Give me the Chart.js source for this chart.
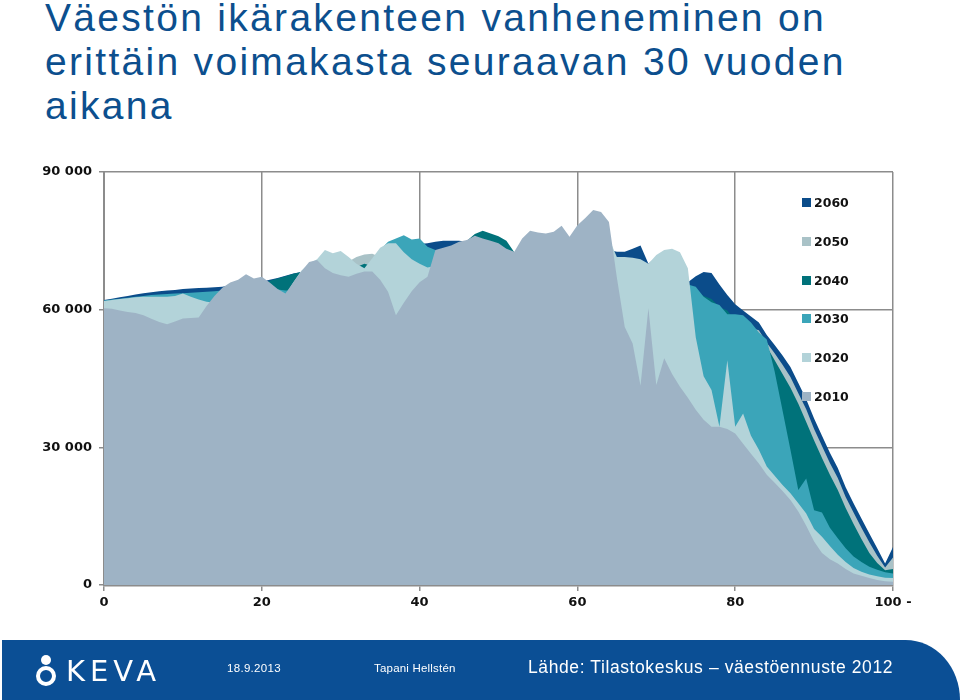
<!DOCTYPE html>
<html lang="fi">
<head>
<meta charset="utf-8">
<script src="https://cdn.jsdelivr.net/npm/chart.js@4.4.0/dist/chart.umd.min.js"></script>
<style>
html,body{margin:0;padding:0;background:#fff;}
#page{position:relative;width:960px;height:700px;overflow:hidden;background:#fff;}
#title{position:absolute;left:45px;top:-4px;font-family:"Liberation Sans",Arial,sans-serif;font-size:39px;line-height:44px;letter-spacing:2.3px;color:#0c4f8e;white-space:nowrap;}
#chartwrap{position:absolute;left:0;top:150px;width:960px;height:470px;}
#legend{position:absolute;left:0;top:0;width:960px;height:700px;pointer-events:none;}
.li{position:absolute;left:802px;height:16px;line-height:16px;font-family:"DejaVu Sans",Verdana,sans-serif;font-weight:bold;font-size:12.5px;color:#111;white-space:nowrap;}
.sw{display:inline-block;width:9px;height:9px;margin-right:3px;vertical-align:0px;}
#footer{position:absolute;left:2px;top:640px;width:958px;height:60px;background:#0b4f95;border-top-right-radius:58px 64px;}
.ft{position:absolute;color:#fff;font-family:"Liberation Sans",Arial,sans-serif;white-space:nowrap;}
#logo{position:absolute;left:34px;top:653px;width:140px;height:36px;}
#head{position:absolute;left:7px;top:2px;width:10px;height:10px;border-radius:50%;background:#fff;}
#body{position:absolute;left:2px;top:13px;width:12px;height:12px;border-radius:50%;border:4px solid #fff;background:#0b4f95;}
#keva{position:absolute;left:32px;top:3px;font-family:"DejaVu Sans",sans-serif;font-size:29px;line-height:30px;letter-spacing:5px;color:#fff;}
</style>
</head>
<body>
<div id="page">
  <div id="title">Väestön ikärakenteen vanheneminen on<br>erittäin voimakasta seuraavan 30 vuoden<br>aikana</div>
  <div id="chartwrap"><canvas id="c" width="960" height="470"></canvas></div>
  <div id="legend"></div>
  <div id="footer"></div>
  <div id="logo"><div id="head"></div><div id="body"></div><div id="keva">KEVA</div></div>
  <div class="ft" style="left:227px;top:662px;font-size:11.5px;letter-spacing:0.3px;">18.9.2013</div>
  <div class="ft" style="left:374px;top:662px;font-size:11.5px;letter-spacing:0.2px;">Tapani Hellstén</div>
  <div class="ft" style="left:528px;top:657px;font-size:17.5px;letter-spacing:0.6px;">Lähde: Tilastokeskus – väestöennuste 2012</div>
</div>
<script>
// Ages 0..100 (100 = "100 -")
const ages = [];
for (let a = 0; a <= 100; a++) ages.push(a);

const xTickLabels = ['0', '20', '40', '60', '80', '100 -'];
const yTickLabels = ['0', '30 000', '60 000', '90 000'];

// Population by age, thousands of persons
const pop2010 = [
 60.3,60.2,59.8,59.5,59.3,58.8,58.0,57.3,56.8,57.4,
 58.1,58.2,58.3,60.8,63.0,64.8,65.9,66.5,67.7,66.8,
 67.2,65.9,64.5,63.5,66.0,68.3,70.4,70.8,69.0,68.0,
 67.5,67.2,67.8,68.3,68.3,66.5,63.9,58.8,61.5,64.0,
 66.0,67.2,73.0,73.5,74.0,74.8,75.2,76.1,75.5,75.0,
 74.5,73.3,72.6,75.5,77.2,76.8,76.6,77.0,78.3,75.9,
 78.4,80.0,81.7,81.3,79.1,67.0,56.2,52.6,43.4,60.3,
 43.6,49.4,46.0,43.2,40.8,38.2,36.0,34.5,34.5,34.0,
 33.0,30.8,28.6,26.5,24.0,22.3,20.5,18.5,16.0,12.9,
 9.5,7.0,5.6,4.7,3.5,2.5,2.0,1.5,1.1,0.8,
 0.7];
const pop2020 = [
 61.9,62.1,62.3,62.5,62.7,62.8,62.8,62.8,62.8,63.0,
 63.5,62.8,62.2,61.7,61.5,61.0,60.3,59.6,59.2,59.8,
 60.6,60.8,60.8,63.2,66.0,68.5,70.0,71.0,73.0,72.3,
 72.8,71.5,70.0,69.0,71.2,73.5,74.5,74.5,72.5,71.0,
 70.0,69.2,69.5,69.0,69.0,67.2,64.5,59.5,62.0,64.5,
 66.5,67.5,72.0,73.3,73.8,74.5,74.8,75.5,74.8,74.2,
 73.5,72.5,71.5,73.5,75.5,71.5,71.5,71.3,71.0,70.0,
 71.9,73.0,73.3,72.5,69.0,54.0,45.5,42.5,34.5,49.0,
 34.5,37.4,32.5,29.5,25.8,23.8,21.8,20.0,17.8,15.6,
 12.2,10.5,8.5,6.6,5.0,3.7,2.9,2.3,1.9,1.6,
 1.5];
const pop2030 = [
 62.0,62.2,62.4,62.6,62.8,63.0,63.2,63.3,63.4,63.5,
 63.6,63.7,63.8,63.9,64.0,64.2,64.3,64.4,64.5,64.6,
 64.8,64.7,64.4,64.2,64.2,64.0,63.5,63.1,62.8,63.6,
 64.6,65.0,65.1,68.2,71.0,73.0,74.8,75.5,76.2,75.3,
 75.5,73.7,73.0,71.5,73.5,74.0,75.0,75.5,74.5,73.5,
 73.0,72.5,72.0,73.3,73.3,71.5,69.0,63.8,66.0,68.0,
 69.5,70.0,69.4,69.5,69.6,69.6,69.2,69.3,68.0,66.8,
 65.6,63.8,62.4,63.8,65.5,65.0,62.8,61.6,61.0,59.0,
 59.0,58.8,57.2,55.0,53.5,46.5,38.0,29.5,20.7,23.2,
 16.3,15.8,12.5,10.2,8.0,6.2,5.0,4.0,3.3,2.8,
 2.5];
const pop2040 = [
 61.6,61.8,62.0,62.2,62.4,62.6,62.8,62.9,63.0,63.1,
 63.2,63.3,63.4,63.5,63.6,63.8,63.9,64.0,64.1,64.2,
 65.0,66.3,66.8,67.3,67.8,68.2,68.5,68.8,69.0,69.2,
 69.3,69.3,69.3,70.0,69.5,69.0,66.5,66.0,65.5,66.0,
 67.0,67.2,67.0,70.0,72.0,74.0,75.0,76.5,77.2,76.6,
 76.0,75.0,72.5,72.0,74.5,76.0,75.5,76.0,76.0,75.0,
 73.5,72.7,72.8,72.3,71.3,68.5,63.0,58.5,60.5,62.0,
 62.5,63.0,66.5,66.0,65.0,64.0,63.0,62.3,60.5,59.8,
 57.5,56.0,54.8,53.6,52.0,49.0,46.0,43.0,39.5,35.5,
 31.5,27.7,24.0,20.7,16.8,13.3,10.0,7.0,4.8,3.2,
 3.5];
const pop2050 = [
 61.8,62.0,62.2,62.4,62.6,62.8,63.0,63.1,63.2,63.3,
 63.4,63.5,63.6,63.7,63.8,64.0,64.1,64.2,64.3,64.4,
 64.6,65.5,66.0,66.5,67.0,67.5,68.0,68.5,69.0,69.5,
 70.0,70.5,71.5,72.0,72.2,71.5,72.0,72.5,72.5,72.5,
 72.5,72.5,72.3,72.3,72.5,72.5,72.5,72.5,72.3,72.2,
 72.0,72.0,71.5,71.0,71.0,71.0,70.5,70.5,70.0,70.0,
 69.5,69.5,69.5,69.5,69.5,69.5,69.8,70.5,70.0,68.5,
 68.5,68.0,67.5,67.0,64.0,62.5,61.5,60.5,59.5,57.5,
 55.5,55.8,56.0,55.5,52.8,50.5,48.0,45.3,41.8,38.3,
 34.0,30.3,26.6,23.3,19.2,15.8,12.5,9.3,6.4,3.8,
 6.0];
const pop2060 = [
 62.1,62.4,62.7,63.0,63.3,63.6,63.8,64.0,64.2,64.3,
 64.5,64.6,64.7,64.8,64.9,65.0,65.3,65.5,65.7,65.9,
 66.1,66.5,66.9,67.4,67.9,68.2,68.5,69.0,69.5,69.8,
 70.0,70.2,70.5,71.0,71.5,72.0,72.5,73.0,73.5,74.0,
 74.3,74.5,74.8,75.0,75.0,75.0,74.8,74.5,74.0,73.5,
 73.0,72.5,72.2,72.0,72.0,72.2,72.4,72.6,72.8,73.0,
 73.0,73.0,73.0,73.0,73.0,72.6,72.6,73.3,74.0,70.0,
 71.5,70.5,70.0,68.5,66.0,67.3,68.2,68.0,65.5,63.2,
 61.2,59.8,58.5,57.2,54.5,52.3,50.0,47.5,44.0,40.5,
 36.3,32.5,28.8,25.5,21.3,17.8,14.5,11.2,8.0,4.7,
 8.3];

const years = ['2010', '2020', '2030', '2040', '2050', '2060'];
const seriesValues = [pop2010, pop2020, pop2030, pop2040, pop2050, pop2060];
const seriesColors = ['#9eb3c5', '#b3d3d9', '#3ba5b9', '#00727a', '#a9c2c7', '#0b4c8a'];

// dataset 0 (2010) is drawn on top, 2060 at the back
const datasets = years.map((y, i) => ({
  label: y,
  data: ages.map((a, j) => ({ x: a, y: seriesValues[i][j] * 1000 })),
  fill: 'origin',
  backgroundColor: seriesColors[i],
  borderColor: 'rgba(0,0,0,0)',
  borderWidth: 0,
  pointRadius: 0,
  pointHoverRadius: 0,
  tension: 0
}));

const tickFont = { family: '"DejaVu Sans", Verdana, sans-serif', size: 13, weight: 'bold' };
const gridColor = '#8c8c8c';

new Chart(document.getElementById('c'), {
  type: 'line',
  data: { datasets },
  options: {
    responsive: false,
    animation: false,
    devicePixelRatio: 1,
    layout: { padding: { left: 0, right: 67, top: 22, bottom: 0 } },
    plugins: { legend: { display: false }, tooltip: { enabled: false } },
    scales: {
      x: {
        type: 'linear', min: 0, max: 100,
        ticks: { stepSize: 20, font: tickFont, color: '#111', padding: 4, maxRotation: 0,
                 callback: (v) => xTickLabels[Math.round(v / 20)] },
        grid: { color: gridColor, lineWidth: 1.5, tickLength: 6, drawTicks: true },
        border: { display: true, color: gridColor, width: 2.5 },
        afterFit: (s) => { s.height = 35; }
      },
      y: {
        min: 0, max: 90000,
        ticks: { stepSize: 30000, font: tickFont, color: '#111', padding: 7,
                 callback: (v) => yTickLabels[Math.round(v / 30000)] },
        grid: { color: gridColor, lineWidth: 1.5, tickLength: 5, drawTicks: true },
        border: { display: true, color: gridColor, width: 2 },
        afterFit: (s) => { s.width = 104; }
      }
    }
  }
});

// Legend (2060 at top ... 2010 at bottom), inside the plot area
const leg = document.getElementById('legend');
for (let k = 0; k < years.length; k++) {
  const i = years.length - 1 - k;
  const d = document.createElement('div');
  d.className = 'li';
  d.style.top = (195 + k * 38.8) + 'px';
  d.innerHTML = '<span class="sw" style="background:' + seriesColors[i] + '"></span>' + years[i];
  leg.appendChild(d);
}
</script>
</body>
</html>
